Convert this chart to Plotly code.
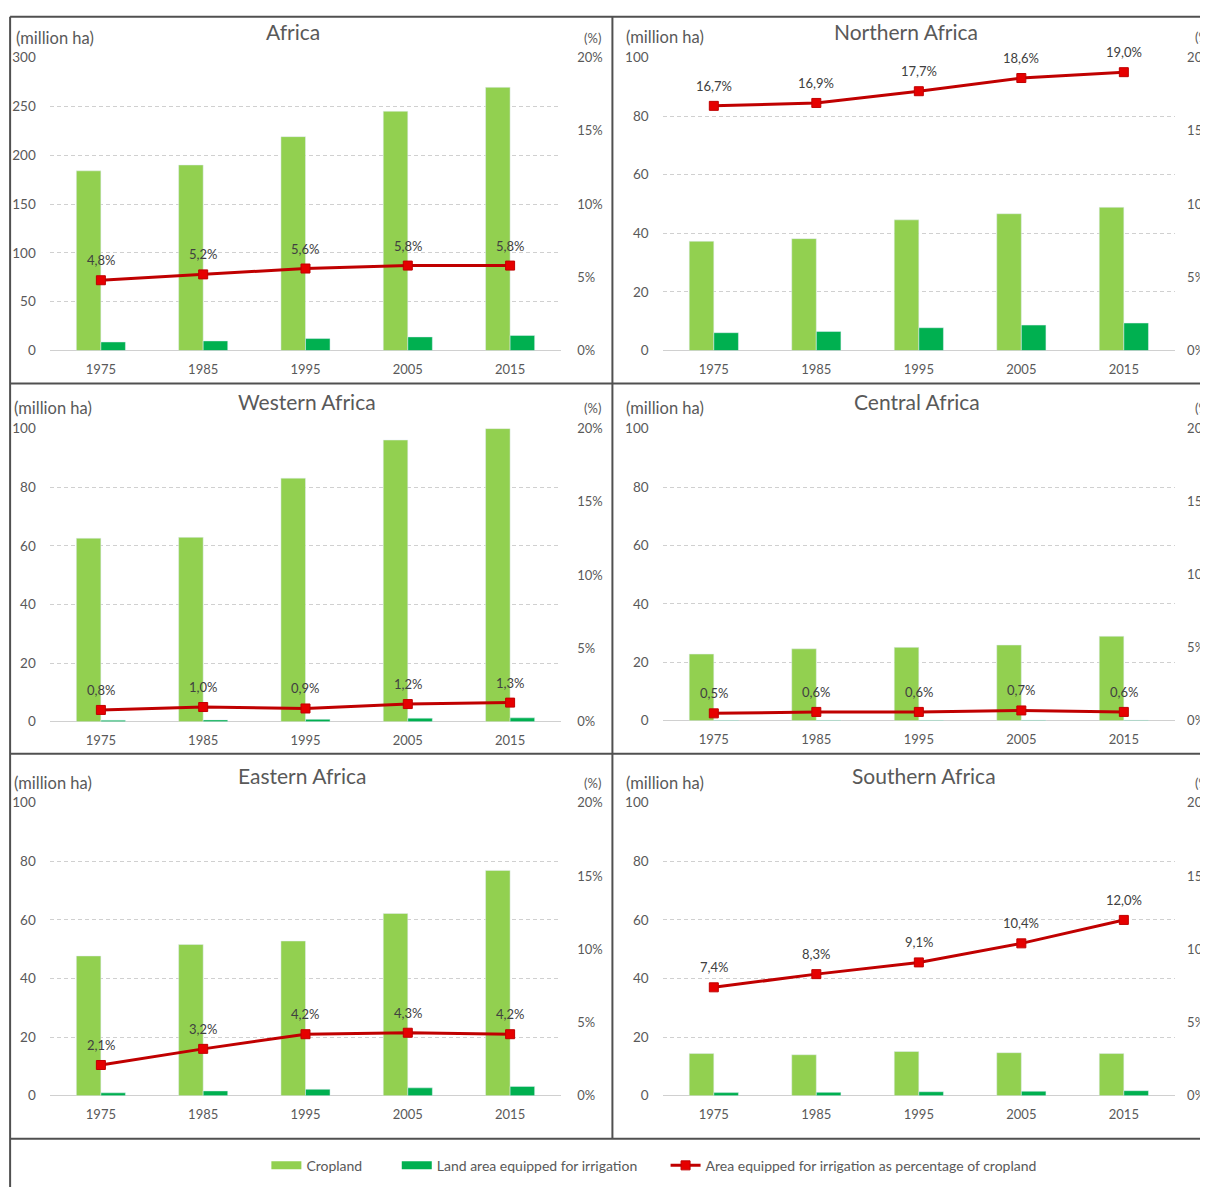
import plotly.graph_objects as go

# ---------------- data ----------------
years = ["1975", "1985", "1995", "2005", "2015"]
regions = ["Africa", "Northern Africa", "Western Africa",
           "Central Africa", "Eastern Africa", "Southern Africa"]

cropland_africa = [184, 190, 219, 245, 269.5]
irrigated_africa = [8.8, 9.9, 12.3, 14.0, 15.5]
pct_africa = [4.8, 5.2, 5.6, 5.8, 5.8]

cropland_northern = [37.3, 38.2, 44.6, 46.7, 48.9]
irrigated_northern = [6.1, 6.5, 7.8, 8.7, 9.4]
pct_northern = [16.7, 16.9, 17.7, 18.6, 19.0]

cropland_western = [62.6, 62.9, 83.1, 96.1, 100.0]
irrigated_western = [0.5, 0.6, 0.8, 1.2, 1.3]
pct_western = [0.8, 1.0, 0.9, 1.2, 1.3]

cropland_central = [22.8, 24.6, 25.1, 25.9, 28.9]
irrigated_central = [0.11, 0.15, 0.15, 0.18, 0.17]
pct_central = [0.5, 0.6, 0.6, 0.7, 0.6]

cropland_eastern = [47.7, 51.6, 52.8, 62.2, 76.9]
irrigated_eastern = [1.0, 1.65, 2.2, 2.7, 3.2]
pct_eastern = [2.1, 3.2, 4.2, 4.3, 4.2]

cropland_southern = [14.4, 14.0, 15.1, 14.7, 14.4]
irrigated_southern = [1.07, 1.16, 1.37, 1.53, 1.73]
pct_southern = [7.4, 8.3, 9.1, 10.4, 12.0]

left_max = [300, 100, 100, 100, 100, 100]
left_step = [50, 20, 20, 20, 20, 20]
right_ticks = [0, 5, 10, 15, 20]

series_names = ["Cropland", "Land area equipped for irrigation",
                "Area equipped for irrigation as percentage of cropland"]

panels = [
    (cropland_africa, irrigated_africa, pct_africa),
    (cropland_northern, irrigated_northern, pct_northern),
    (cropland_western, irrigated_western, pct_western),
    (cropland_central, irrigated_central, pct_central),
    (cropland_eastern, irrigated_eastern, pct_eastern),
    (cropland_southern, irrigated_southern, pct_southern),
]

# ---------------- layout geometry ----------------
# positions below are given in reference-picture pixels and mapped to the
# figure's pixel space (page offset / photo scale compensated)
SX, CX = 0.997, 7.4
SY, CY = 0.9863, 15.5
W, H = 1210, 1188
FONT = "Lato, Calibri, Carlito, sans-serif"
TXT = "#595959"
C_CROP = "#92D050"
C_IRR = "#00B050"
C_LINE = "#C00000"
C_MARK = "#E60000"


def fx(x):
    return ((x - CX) / SX) / W


def fy(y):
    v = 1 - ((y - CY) / SY) / H
    return min(v, 1 - 0.8 / H)


geom = [
    (49, 559, 57, 350), (660, 1171, 57, 350),
    (49, 559, 428, 721), (660, 1171, 428, 720),
    (49, 559, 802, 1095), (660, 1171, 802, 1095),
]
titles_pos = [(292, 31), (903, 31), (306, 401), (914, 401), (301, 775), (921, 775)]
unit_y = [37, 36, 407, 407, 782, 782]
unit_x = [13, 622, 11, 622, 11, 622]
pct_x = [590, 1199, 590, 1199, 590, 1199]
right_standoff = [15, 11, 15, 11, 15, 11]
legend_x = [265, 395, 663]       # left edge of each legend entry
LEGEND_Y = 1165


def axname(prefix, n):
    return prefix if n == 1 else f"{prefix}{n}"


fig = go.Figure()
annotations = []
layout = {}

for i, (crop, irr, pct) in enumerate(panels):
    xn = i + 1
    y1n = 2 * i + 1
    y2n = 2 * i + 2
    xref = "x" if xn == 1 else f"x{xn}"
    y1ref = "y" if y1n == 1 else f"y{y1n}"
    y2ref = f"y{y2n}"
    x0, x1, yt, yb = geom[i]

    fig.add_trace(go.Bar(x=years, y=crop, name=series_names[0], marker_color=C_CROP,
                         xaxis=xref, yaxis=y1ref, showlegend=False,
                         legendgroup="crop", hoverinfo="skip"))
    fig.add_trace(go.Bar(x=years, y=irr, name=series_names[1], marker_color=C_IRR,
                         xaxis=xref, yaxis=y1ref, showlegend=False,
                         legendgroup="irr", hoverinfo="skip"))
    fig.add_trace(go.Scatter(x=years, y=pct, name=series_names[2], mode="lines+markers",
                             line=dict(color=C_LINE, width=3),
                             marker=dict(symbol="square", size=9, color=C_MARK,
                                         line=dict(color=C_LINE, width=1)),
                             xaxis=xref, yaxis=y2ref, showlegend=(i == 0),
                             legend="legend3", legendgroup="pct", hoverinfo="skip"))

    layout[axname("xaxis", xn)] = dict(
        domain=[fx(x0), fx(x1)], anchor=y1ref, type="category",
        categoryorder="array", categoryarray=years,
        range=[-0.5, len(years) - 0.5], autorange=False,
        showgrid=False, showline=False, zeroline=False, ticks="",
        tickfont=dict(family=FONT, size=13, color=TXT), ticklabelstandoff=9,
        fixedrange=True)
    layout[axname("yaxis", y1n)] = dict(
        domain=[fy(yb), fy(yt)], anchor=xref, range=[0, left_max[i]], autorange=False,
        dtick=left_step[i], tick0=0, showgrid=True, gridcolor="#D0D0D0",
        griddash="4px,3px", gridwidth=1, zeroline=True, zerolinecolor="#D0D0D0",
        zerolinewidth=1, showline=False, ticks="",
        tickfont=dict(family=FONT, size=13.5, color=TXT), ticklabelstandoff=13,
        fixedrange=True)
    layout[axname("yaxis", y2n)] = dict(
        domain=[fy(yb), fy(yt)], anchor=xref, overlaying=y1ref, side="right",
        range=[0, 20], autorange=False, tickvals=right_ticks,
        ticktext=[f"{t}%" for t in right_ticks], showgrid=False, zeroline=False,
        showline=False, ticks="", tickfont=dict(family=FONT, size=13, color=TXT),
        ticklabelstandoff=right_standoff[i], fixedrange=True)

    for j, v in enumerate(pct):
        annotations.append(dict(
            x=j, y=v, xref=xref, yref=y2ref, yshift=20, showarrow=False,
            text=f"{v:.1f}".replace(".", ",") + "%",
            font=dict(family=FONT, size=13, color="#404040")))

    tx, ty = titles_pos[i]
    annotations.append(dict(x=fx(tx), y=fy(ty), xref="paper", yref="paper",
                            text=regions[i], showarrow=False, xanchor="center",
                            yanchor="middle",
                            font=dict(family=FONT, size=21, color=TXT)))
    annotations.append(dict(x=fx(unit_x[i]), y=fy(unit_y[i]), xref="paper", yref="paper",
                            text="(million ha)", showarrow=False, xanchor="left",
                            yanchor="middle",
                            font=dict(family=FONT, size=16.5, color=TXT)))
    annotations.append(dict(x=fx(pct_x[i]), y=fy(unit_y[i]), xref="paper", yref="paper",
                            text="(%)", showarrow=False, xanchor="center",
                            yanchor="middle",
                            font=dict(family=FONT, size=13, color=TXT)))

# legend keys for the bar series (wide flat swatches as in the original)
fig.add_trace(go.Scatter(x=[None], y=[None], mode="lines", name=series_names[0],
                         line=dict(color=C_CROP, width=8), legend="legend",
                         hoverinfo="skip"))
fig.add_trace(go.Scatter(x=[None], y=[None], mode="lines", name=series_names[1],
                         line=dict(color=C_IRR, width=8), legend="legend2",
                         hoverinfo="skip"))

BORDER = "#505050"
shapes = []
frame_lines = [
    (9.5, 9.5, 1240, 9.5),
    (9.5, 9.5, 9.5, 1220),
    (610, 9.5, 610, 1138),
    (9.5, 383, 1240, 383),
    (9.5, 753, 1240, 753),
    (9.5, 1138, 1240, 1138),
]
for (ax0, ay0, ax1, ay1) in frame_lines:
    shapes.append(dict(type="line", xref="paper", yref="paper",
                       x0=fx(ax0), y0=fy(ay0), x1=fx(ax1), y1=fy(ay1),
                       line=dict(color=BORDER, width=2)))

legend_common = dict(orientation="h", y=fy(LEGEND_Y), xanchor="left", yanchor="middle",
                     font=dict(family=FONT, size=14, color=TXT), itemwidth=30,
                     bgcolor="rgba(0,0,0,0)", borderwidth=0)

fig.update_layout(
    width=W, height=H, margin=dict(l=0, r=0, t=0, b=0),
    paper_bgcolor="white", plot_bgcolor="white",
    barmode="group", bargap=0.52, bargroupgap=0,
    font=dict(family=FONT, color=TXT),
    showlegend=True,
    legend=dict(x=fx(legend_x[0]), **legend_common),
    legend2=dict(x=fx(legend_x[1]), **legend_common),
    legend3=dict(x=fx(legend_x[2]), **legend_common),
    annotations=annotations, shapes=shapes,
    **layout,
)

fig.write_html("out.html")
